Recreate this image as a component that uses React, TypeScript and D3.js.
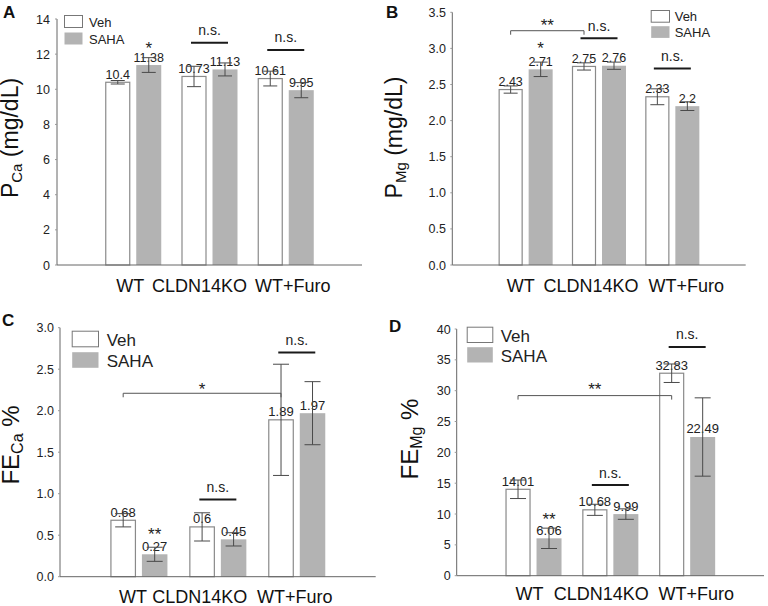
import React from "react";
import * as d3 from "d3";

const categories = ["WT", "CLDN14KO", "WT+Furo"];
const seriesNames = ["Veh", "SAHA"];

// Panel A: P_Ca
const pcaVeh = [10.4, 10.73, 10.61];
const pcaSaha = [11.38, 11.13, 9.95];
const pcaVehErr = [0.1, 0.58, 0.42];
const pcaSahaErr = [0.42, 0.37, 0.43];
const pcaTicks = [0, 2, 4, 6, 8, 10, 12, 14];

// Panel B: P_Mg
const pmgVeh = [2.43, 2.75, 2.33];
const pmgSaha = [2.71, 2.76, 2.2];
const pmgVehErr = [0.05, 0.05, 0.11];
const pmgSahaErr = [0.1, 0.05, 0.06];
const pmgTicks = [0, 0.5, 1, 1.5, 2, 2.5, 3, 3.5];

// Panel C: FE_Ca
const fecaVeh = [0.68, 0.6, 1.89];
const fecaSaha = [0.27, 0.45, 1.97];
const fecaVehErr = [0.08, 0.17, 0.67];
const fecaSahaErr = [0.085, 0.08, 0.38];
const fecaTicks = [0, 0.5, 1, 1.5, 2, 2.5, 3];

// Panel D: FE_Mg
const femgVeh = [14.01, 10.68, 32.83];
const femgSaha = [6.06, 9.99, 22.49];
const femgVehErr = [1.5, 0.9, 1.5];
const femgSahaErr = [1.65, 0.85, 6.35];
const femgTicks = [0, 5, 10, 15, 20, 25, 30, 35, 40];

// significance annotations (levels in data units)
const pcaStars = [{ g: 0, s: 1, text: "*", level: 12.58 }];
const pcaNs = [{ g: 1, level: 12.65 }, { g: 2, level: 12.24 }];
const pcaBrackets: any[] = [];

const pmgStars = [{ g: 0, s: 1, text: "*", level: 3.05 }];
const pmgNs = [{ g: 1, level: 3.14 }, { g: 2, level: 2.72 }];
const pmgBrackets = [{ from: 0, to: 1, level: 3.245, text: "**", textLevel: 3.37 }];

const fecaStars = [{ g: 0, s: 1, text: "**", level: 0.56 }];
const fecaNs = [{ g: 1, level: 0.93 }, { g: 2, level: 2.7 }];
const fecaBrackets = [{ from: 0, to: 2, level: 2.21, text: "*", textLevel: 2.3 }];

const femgStars = [{ g: 0, s: 1, text: "**", level: 9.84 }];
const femgNs = [{ g: 1, level: 14.7 }, { g: 2, level: 37.1 }];
const femgBrackets = [{ from: 0, to: 2, level: 29.2, text: "**", textLevel: 30.9 }];

const FONT = "Liberation Sans, Arial, Helvetica, sans-serif";
const GRAY = "#b3b3b3";

type PanelCfg = {
  letter: string; lx: number; ly: number;
  x0: number; x1: number; yb: number; yt: number; ymax: number;
  ticks: number[]; fmt: (v: number) => string; tickRight: number;
  veh: number[]; saha: number[]; vehErr: number[]; sahaErr: number[];
  barW: number; gap: number; cap: number; valFs: number;
  stars: any[]; ns: any[]; brackets: any[];
  legend: { x: number; y: number; w: number; h: number; step: number; fs: number; tx: number };
  ylab: { main: string; sub: string; rest: string; x: number; y: number; fs: number; subFs: number };
  catY: number; catOffsets: number[];
};

function Panel({ c }: { c: PanelCfg }) {
  const x = d3.scaleLinear().domain([0, 4]).range([c.x0, c.x1]);
  const y = d3.scaleLinear().domain([0, c.ymax]).range([c.yb, c.yt]);
  const center = (g: number) => x(g + 1);
  const barX = (g: number, s: number) =>
    s === 0 ? center(g) - c.gap / 2 - c.barW : center(g) + c.gap / 2;
  const barC = (g: number, s: number) => barX(g, s) + c.barW / 2;
  const vals = [c.veh, c.saha];
  const errs = [c.vehErr, c.sahaErr];
  const starFs = 17;
  return (
    <g>
      <text x={c.lx} y={c.ly} fontFamily={FONT} fontWeight="bold" fontSize={17} fill="#111">{c.letter}</text>
      {/* bars */}
      {[0, 1].map((s) =>
        categories.map((_, g) => (
          <rect key={`b${s}${g}`} x={barX(g, s) + (s === 0 ? 0.5 : 0)} y={y(vals[s][g])}
            width={c.barW - (s === 0 ? 1 : 0)} height={c.yb - y(vals[s][g])}
            fill={s === 0 ? "#fff" : GRAY} stroke={s === 0 ? "#8a8a8a" : "none"} strokeWidth={1.2} />
        ))
      )}
      {/* value labels */}
      {[0, 1].map((s) =>
        categories.map((_, g) => (
          <text key={`v${s}${g}`} x={barC(g, s)} y={y(vals[s][g]) - 3.5} textAnchor="middle"
            fontFamily={FONT} fontSize={c.valFs} fill="#222">{String(vals[s][g])}</text>
        ))
      )}
      {/* error bars */}
      {[0, 1].map((s) =>
        categories.map((_, g) => {
          const cx = barC(g, s);
          const t = y(vals[s][g] + errs[s][g]);
          const b = y(vals[s][g] - errs[s][g]);
          return (
            <g key={`e${s}${g}`} stroke="#4a4a4a" strokeWidth={1}>
              <line x1={cx} x2={cx} y1={t} y2={b} />
              <line x1={cx - c.cap / 2} x2={cx + c.cap / 2} y1={t} y2={t} />
              <line x1={cx - c.cap / 2} x2={cx + c.cap / 2} y1={b} y2={b} />
            </g>
          );
        })
      )}
      {/* axes */}
      <line x1={c.x0} x2={c.x1} y1={c.yb} y2={c.yb} stroke="#666" strokeWidth={1} />
      <line x1={c.x0} x2={c.x0} y1={c.yb} y2={c.yt} stroke="#666" strokeWidth={1} />
      {c.ticks.map((t) => (
        <g key={`t${t}`}>
          <line x1={c.x0 - 2} x2={c.x0} y1={y(t)} y2={y(t)} stroke="#999" strokeWidth={1} />
          <text x={c.tickRight} y={y(t)} dy="0.36em" textAnchor="end" fontFamily={FONT}
            fontSize={12.5} fill="#222">{c.fmt(t)}</text>
        </g>
      ))}
      {/* category labels */}
      {categories.map((cat, g) => (
        <text key={`c${g}`} x={center(g) + c.catOffsets[g]} y={c.catY} textAnchor="middle"
          fontFamily={FONT} fontSize={18} fill="#111">{cat}</text>
      ))}
      {/* stars above bars */}
      {c.stars.map((st, i) => (
        <text key={`s${i}`} x={barC(st.g, st.s)} y={y(st.level) + starFs * 0.57} textAnchor="middle"
          fontFamily={FONT} fontSize={starFs} fill="#222">{st.text}</text>
      ))}
      {/* n.s. */}
      {c.ns.map((n, i) => (
        <g key={`n${i}`}>
          <line x1={center(n.g) - 18.5} x2={center(n.g) + 18.5} y1={y(n.level)} y2={y(n.level)}
            stroke="#1a1a1a" strokeWidth={2} />
          <text x={center(n.g)} y={y(n.level) - 7.5} textAnchor="middle" fontFamily={FONT}
            fontSize={14} fill="#222">n.s.</text>
        </g>
      ))}
      {/* brackets */}
      {c.brackets.map((b, i) => {
        const xa = barC(b.from, 0);
        const xb = barC(b.to, 0);
        const yy = y(b.level);
        return (
          <g key={`br${i}`}>
            <path d={`M${xa},${yy + 4}V${yy}H${xb}V${yy + 4}`} fill="none" stroke="#555" strokeWidth={1} />
            <text x={(xa + xb) / 2} y={y(b.textLevel) + starFs * 0.57} textAnchor="middle"
              fontFamily={FONT} fontSize={starFs} fill="#222">{b.text}</text>
          </g>
        );
      })}
      {/* legend */}
      {seriesNames.map((nm, s) => (
        <g key={`l${s}`}>
          <rect x={c.legend.x + 0.5} y={c.legend.y + s * c.legend.step + 0.5} width={c.legend.w - 1}
            height={c.legend.h - 1} fill={s === 0 ? "#fff" : GRAY} stroke={s === 0 ? "#777" : "none"} />
          <text x={c.legend.tx} y={c.legend.y + s * c.legend.step + c.legend.h - 1.5}
            fontFamily={FONT} fontSize={c.legend.fs} fill="#222">{nm}</text>
        </g>
      ))}
      {/* y label */}
      <text transform={`translate(${c.ylab.x},${c.ylab.y}) rotate(-90)`} textAnchor="middle"
        fontFamily={FONT} fontSize={c.ylab.fs} fill="#111">
        <tspan>{c.ylab.main}</tspan>
        <tspan fontSize={c.ylab.subFs} dy={4}>{c.ylab.sub}</tspan>
        <tspan dy={-4}>{c.ylab.rest}</tspan>
      </text>
    </g>
  );
}

const f0 = (v: number) => d3.format("d")(v);
const f1 = (v: number) => d3.format(".1f")(v);

const panels: PanelCfg[] = [
  {
    letter: "A", lx: 3, ly: 18,
    x0: 57, x1: 362, yb: 265, yt: 19, ymax: 14, ticks: pcaTicks, fmt: f0, tickRight: 50,
    veh: pcaVeh, saha: pcaSaha, vehErr: pcaVehErr, sahaErr: pcaSahaErr,
    barW: 25, gap: 6, cap: 14, valFs: 12.5,
    stars: pcaStars, ns: pcaNs, brackets: pcaBrackets,
    legend: { x: 64, y: 15, w: 19, h: 13, step: 17, fs: 13, tx: 89 },
    ylab: { main: "P", sub: "Ca", rest: " (mg/dL)", x: 18, y: 138, fs: 23, subFs: 15 },
    catY: 291.5, catOffsets: [-3, -10, 7],
  },
  {
    letter: "B", lx: 386, ly: 18,
    x0: 452.3, x1: 745.7, yb: 265, yt: 12.3, ymax: 3.5, ticks: pmgTicks, fmt: f1, tickRight: 446,
    veh: pmgVeh, saha: pmgSaha, vehErr: pmgVehErr, sahaErr: pmgSahaErr,
    barW: 24, gap: 6, cap: 14, valFs: 12.5,
    stars: pmgStars, ns: pmgNs, brackets: pmgBrackets,
    legend: { x: 650.7, y: 10, w: 19.3, h: 12.7, step: 15.7, fs: 13, tx: 674.7 },
    ylab: { main: "P", sub: "Mg", rest: " (mg/dL)", x: 402, y: 137.5, fs: 23, subFs: 15 },
    catY: 291.5, catOffsets: [-5, -8, 14],
  },
  {
    letter: "C", lx: 2, ly: 326,
    x0: 60, x1: 375.7, yb: 576.7, yt: 327.7, ymax: 3.0, ticks: fecaTicks, fmt: f1, tickRight: 54,
    veh: fecaVeh, saha: fecaSaha, vehErr: fecaVehErr, sahaErr: fecaSahaErr,
    barW: 25.5, gap: 6, cap: 16, valFs: 13,
    stars: fecaStars, ns: fecaNs, brackets: fecaBrackets,
    legend: { x: 71.7, y: 330.7, w: 27.3, h: 16.6, step: 21, fs: 17, tx: 106.7 },
    ylab: { main: "FE", sub: "Ca", rest: " %", x: 19, y: 445, fs: 24, subFs: 16 },
    catY: 603, catOffsets: [-6, -18, -2],
  },
  {
    letter: "D", lx: 389, ly: 332,
    x0: 456.7, x1: 764, yb: 575.7, yt: 329, ymax: 40, ticks: femgTicks, fmt: f0, tickRight: 450.7,
    veh: femgVeh, saha: femgSaha, vehErr: femgVehErr, sahaErr: femgSahaErr,
    barW: 25, gap: 6, cap: 16, valFs: 13,
    stars: femgStars, ns: femgNs, brackets: femgBrackets,
    legend: { x: 466.7, y: 326.7, w: 26.6, h: 16.3, step: 20, fs: 17, tx: 500.7 },
    ylab: { main: "FE", sub: "Mg", rest: " %", x: 418, y: 439, fs: 24, subFs: 16 },
    catY: 600, catOffsets: [-4, -9, 9],
  },
];

export default function App() {
  return (
    <svg width={768} height={606} style={{ position: "absolute", left: 0, top: 0, background: "#fff" }}>
      <rect width={768} height={606} fill="#fff" />
      {panels.map((p) => (
        <Panel key={p.letter} c={p} />
      ))}
    </svg>
  );
}
